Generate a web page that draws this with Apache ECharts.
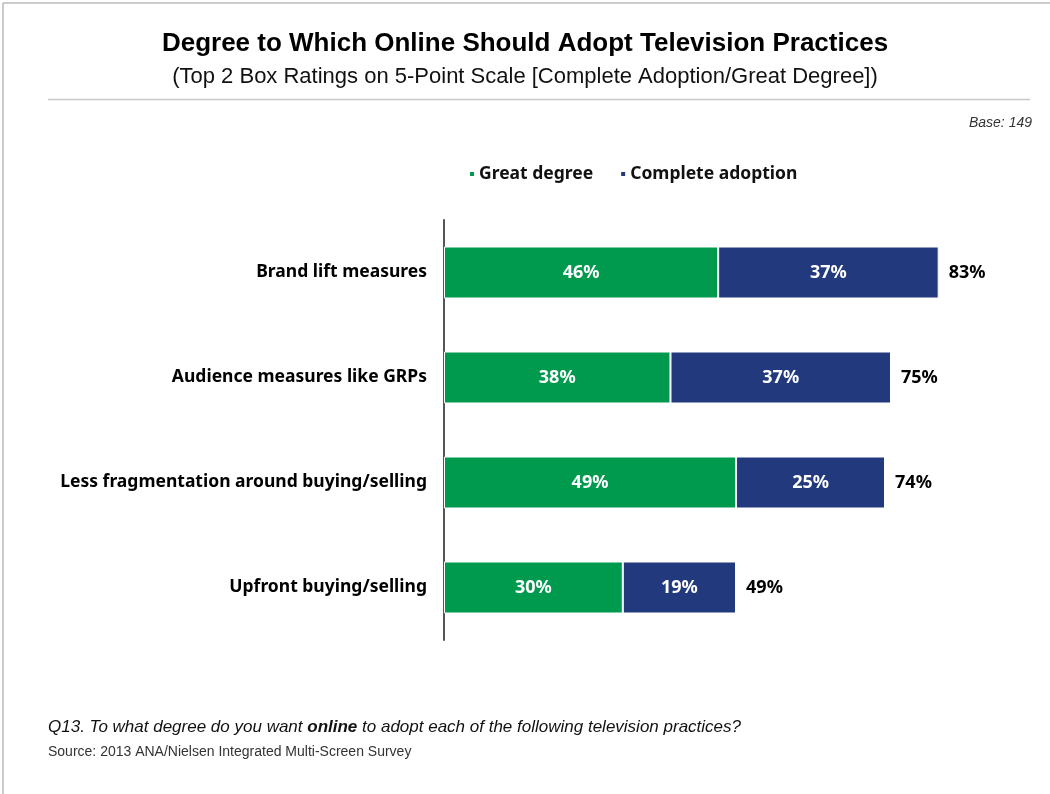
<!DOCTYPE html>
<html><head><meta charset="utf-8">
<script src="https://cdn.jsdelivr.net/npm/echarts@6/dist/echarts.min.js"></script>
<style>html,body{margin:0;padding:0;background:#fff}#c{width:1050px;height:794px}</style>
</head><body><div id="c"></div>
<script>
const categories = ['Brand lift measures','Audience measures like GRPs','Less fragmentation around buying/selling','Upfront buying/selling'];
const greatDegree = [46, 38, 49, 30];
const completeAdoption = [37, 37, 25, 19];
const totals = categories.map((c, i) => greatDegree[i] + completeAdoption[i]);

const narrow = '"Liberation Sans", sans-serif';
const body = '"Noto Sans", sans-serif';
const chart = echarts.init(document.getElementById('c'));
chart.setOption({
  backgroundColor: '#fff',
  animation: false,
  title: [
    {text: 'Degree to Which Online Should Adopt Television Practices', left: 'center', top: 26,
     textStyle: {fontFamily: narrow, fontWeight: 'bold', fontSize: 26, color: '#000'}},
    {text: '(Top 2 Box Ratings on 5-Point Scale [Complete Adoption/Great Degree])', left: 'center', top: 61,
     textStyle: {fontFamily: narrow, fontWeight: 'normal', fontSize: 22, color: '#111'}},
    {text: 'Base: 149', right: 13, top: 111,
     textStyle: {fontFamily: narrow, fontStyle: 'italic', fontWeight: 'normal', fontSize: 14, color: '#333'}},
    {text: '{i|Q13. To what degree do you want }{b|online}{i| to adopt each of the following television practices?}', left: 43, top: 714,
     textStyle: {fontWeight: 'normal', rich: {
       i: {fontFamily: narrow, fontStyle: 'italic', fontWeight: 'normal', fontSize: 17, color: '#111'},
       b: {fontFamily: narrow, fontStyle: 'italic', fontWeight: 'bold', fontSize: 17, color: '#111'}}}},
    {text: 'Source: 2013 ANA/Nielsen Integrated Multi-Screen Survey', left: 43, top: 740,
     textStyle: {fontFamily: narrow, fontWeight: 'normal', fontSize: 14, color: '#333'}}
  ],
  graphic: [
    {type: 'rect', shape: {x: 3, y: 3, width: 1200, height: 1000}, style: {fill: 'none', stroke: '#999', lineWidth: 1}, silent: true},
    {type: 'line', shape: {x1: 48, y1: 99.5, x2: 1030, y2: 99.5}, style: {stroke: '#c8c8c8', lineWidth: 1.5}, silent: true}
  ],
  legend: {
    left: 463, top: 160, icon: 'rect', itemWidth: 6, itemHeight: 6, itemGap: 26,
    data: ['Great degree', 'Complete adoption'],
    textStyle: {fontFamily: body, fontWeight: 'bold', fontSize: 17.5, color: '#111', padding: [0, 0, 0, -1]}
  },
  grid: {left: 444, top: 220, width: 596, height: 420, containLabel: false},
  xAxis: {type: 'value', min: 0, max: 100, show: false},
  yAxis: {
    type: 'category', data: categories, inverse: true,
    axisLine: {show: true, lineStyle: {color: '#555', width: 2}},
    axisTick: {show: false},
    axisLabel: {margin: 17, fontFamily: body, fontWeight: 'bold', fontSize: 17.5, color: '#000'}
  },
  series: [
    {name: 'Great degree', type: 'bar', stack: 't', data: greatDegree, barWidth: 52,
     itemStyle: {color: '#009A4E', borderColor: '#fff', borderWidth: 1},
     label: {show: true, position: 'inside', formatter: '{c}%', fontFamily: body, fontWeight: 'bold', fontSize: 18, color: '#fff'}},
    {name: 'Complete adoption', type: 'bar', stack: 't', data: completeAdoption, barWidth: 52,
     itemStyle: {color: '#22397E', borderColor: '#fff', borderWidth: 1},
     label: {show: true, position: 'inside', formatter: '{c}%', fontFamily: body, fontWeight: 'bold', fontSize: 18, color: '#fff'}},
    {name: 'Total', type: 'scatter', data: totals.map((t, i) => [t, categories[i]]), symbolSize: 0,
     label: {show: true, position: 'right', distance: 10, formatter: p => p.value[0] + '%', fontFamily: body, fontWeight: 'bold', fontSize: 18, color: '#000', opacity: 1}}
  ]
});
</script></body></html>
